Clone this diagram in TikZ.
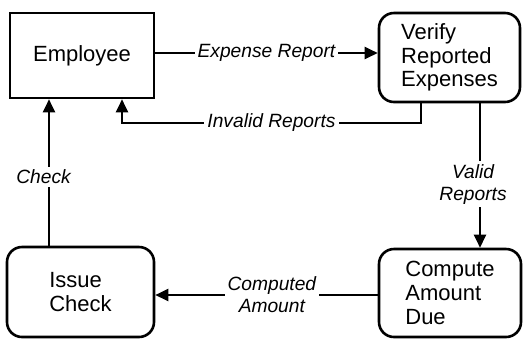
\documentclass[tikz,border=0pt]{standalone}
\usepackage{fontspec}
\setmainfont{Liberation Sans}
\usetikzlibrary{arrows.meta}
\tikzset{
  procbox/.style={draw, line width=1.3pt, align=left, inner sep=0pt,
    font=\fontsize{11}{11.8}\selectfont},
  roundbox/.style={procbox, rounded corners=7.5pt},
  conn/.style={line width=1.1pt},
  arr/.style={-{Triangle[length=6.5pt,width=6pt]}},
  lbl/.style={fill=white, inner sep=1.5pt, align=center,
    font=\fontsize{9.6}{11}\selectfont\itshape}
}
\begin{document}
\begin{tikzpicture}[x=0.5pt,y=-0.5pt]
\useasboundingbox (0,0) rectangle (523,339);
\node[procbox, minimum width=72pt, minimum height=42.5pt] (E) at (82,55.5) {Employee};
\node[roundbox, minimum width=70.5pt, minimum height=44.5pt] (V) at (449.5,57.5) {Verify\\Reported\\Expenses};
\node[roundbox, minimum width=73.5pt, minimum height=45pt] (I) at (80.5,292) {Issue\\Check};
\node[roundbox, minimum width=71pt, minimum height=44pt] (C) at (450,293) {Compute\\Amount\\Due};
\coordinate (ey) at (0,53);
\coordinate (ix) at (421,123);
\coordinate (jx) at (122,123);
\coordinate (cx) at (49,0);
\coordinate (vx) at (480,0);
\coordinate (my) at (0,295);
\draw[conn,arr] (E.east |- ey) -- node[lbl]{Expense Report} (V.west |- ey);
\draw[conn,arr] (ix |- V.south) -- (ix) -- node[lbl]{Invalid Reports} (jx) -- (jx |- E.south);
\draw[conn,arr] (cx |- I.north) -- node[lbl,pos=0.47,xshift=-2.75pt]{Check} (cx |- E.south);
\draw[conn,arr] (vx |- V.south) -- node[lbl,pos=0.56,xshift=-3.5pt]{Valid\\Reports} (vx |- C.north);
\draw[conn,arr] (C.west |- my) -- node[lbl,pos=0.476]{Computed\\Amount} (I.east |- my);
\end{tikzpicture}
\end{document}
